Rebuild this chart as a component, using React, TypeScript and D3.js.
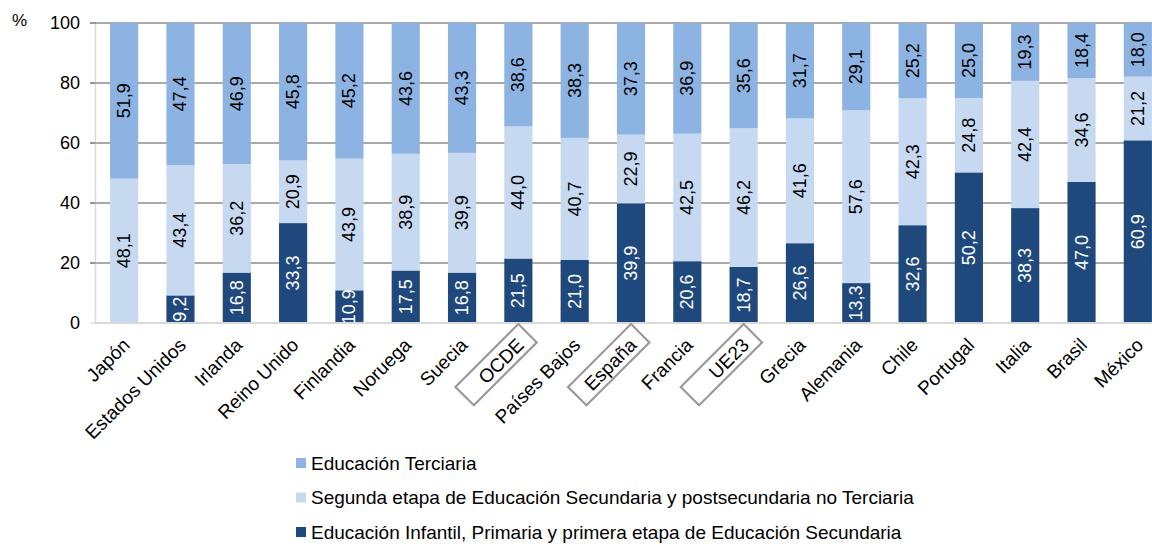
import React from "react";
import * as d3 from "d3";

const categories = ["Japón","Estados Unidos","Irlanda","Reino Unido","Finlandia","Noruega","Suecia","OCDE","Países Bajos","España","Francia","UE23","Grecia","Alemania","Chile","Portugal","Italia","Brasil","México"];
const basicEd = [0, 9.2, 16.8, 33.3, 10.9, 17.5, 16.8, 21.5, 21.0, 39.9, 20.6, 18.7, 26.6, 13.3, 32.6, 50.2, 38.3, 47.0, 60.9];
const upperSecEd = [48.1, 43.4, 36.2, 20.9, 43.9, 38.9, 39.9, 44.0, 40.7, 22.9, 42.5, 46.2, 41.6, 57.6, 42.3, 24.8, 42.4, 34.6, 21.2];
const tertiaryEd = [51.9, 47.4, 46.9, 45.8, 45.2, 43.6, 43.3, 38.6, 38.3, 37.3, 36.9, 35.6, 31.7, 29.1, 25.2, 25.0, 19.3, 18.4, 18.0];
const yTicks = [0, 20, 40, 60, 80, 100];
const highlighted = ["OCDE", "España", "UE23"];
const seriesNames = [
  "Educación Terciaria",
  "Segunda etapa de Educación Secundaria y postsecundaria no Terciaria",
  "Educación Infantil, Primaria y primera etapa de Educación Secundaria",
];
const seriesColors = ["#8DB3E2", "#C6D9F1", "#1F497D"];

const FONT = "'Liberation Sans', Arial, sans-serif";

export default function App() {
  const W = 1152, H = 544;
  const x = d3.scaleBand<string>().domain(categories).range([96, 1166]).paddingInner(0.5).paddingOuter(0.25);
  const y = d3.scaleLinear().domain([0, 100]).range([323, 23]).clamp(true);
  const bw = x.bandwidth();

  const rows = categories.map((c, i) => ({ c, vals: [basicEd[i], upperSecEd[i], tertiaryEd[i]] }));
  const stackColors = [seriesColors[2], seriesColors[1], seriesColors[0]];
  const textColors = ["#ffffff", "#000000", "#000000"];

  return (
    <svg width={W} height={H} style={{ position: "absolute", left: 0, top: 0, background: "#fff" }} fontFamily={FONT}>
      {yTicks.map((t) => (
        <g key={t}>
          {t > 0 && <line x1={90} x2={W} y1={y(t)} y2={y(t)} stroke="#8c8c8c" strokeWidth={1.3} />}
          <text x={80} y={y(t)} textAnchor="end" dominantBaseline="central" fontSize={18} fill="#000">{t}</text>
        </g>
      ))}
      <text x={12} y={20} fontSize={17} dominantBaseline="central" fill="#000">%</text>
      {rows.map((r) => {
        let acc = 0;
        const cx = (x(r.c) as number) + bw / 2;
        return (
          <g key={r.c}>
            {r.vals.map((v, k) => {
              const y0 = acc, y1 = Math.min(100, acc + v);
              acc = acc + v;
              if (v <= 0) return null;
              const yc = (y(y0) + y(y1)) / 2;
              return (
                <g key={k}>
                  <rect x={x(r.c)} y={y(y1)} width={bw} height={y(y0) - y(y1)} fill={stackColors[k]} />
                  <text transform={`translate(${cx},${yc}) rotate(-90)`} textAnchor="middle" dominantBaseline="central" fontSize={18} fill={textColors[k]}>
                    {v.toFixed(1).replace(".", ",")}
                  </text>
                </g>
              );
            })}
          </g>
        );
      })}
      <line x1={95} x2={W} y1={y(0)} y2={y(0)} stroke="#d9d9d9" strokeWidth={2} />
      <line x1={95.5} x2={95.5} y1={y(100)} y2={y(0)} stroke="#d9d9d9" strokeWidth={1.5} />
      {yTicks.map((t) => (
        <line key={"tk" + t} x1={90} x2={96} y1={y(t)} y2={y(t)} stroke={t === 0 ? "#d9d9d9" : "#8c8c8c"} strokeWidth={1.3} />
      ))}
      {categories.map((c) => {
        const cx = (x(c) as number) + bw / 2;
        const hl = highlighted.includes(c);
        return (
          <g key={"xl" + c} transform={`translate(${cx},${324}) rotate(-45)`}>
            {hl && <rect x={-89} y={0} width={89} height={26} fill="none" stroke="#9a9a9a" strokeWidth={2.2} />}
            <text x={-11} y={14} textAnchor="end" dominantBaseline="central" fontSize={19} fill="#000">{c}</text>
          </g>
        );
      })}
      {seriesNames.map((s, i) => (
        <g key={s} transform={`translate(296,${463 + i * 34.5})`}>
          <rect x={0} y={-5} width={10} height={10} fill={seriesColors[i]} />
          <text x={15} y={0} dominantBaseline="central" fontSize={19} fill="#000">{s}</text>
        </g>
      ))}
    </svg>
  );
}
